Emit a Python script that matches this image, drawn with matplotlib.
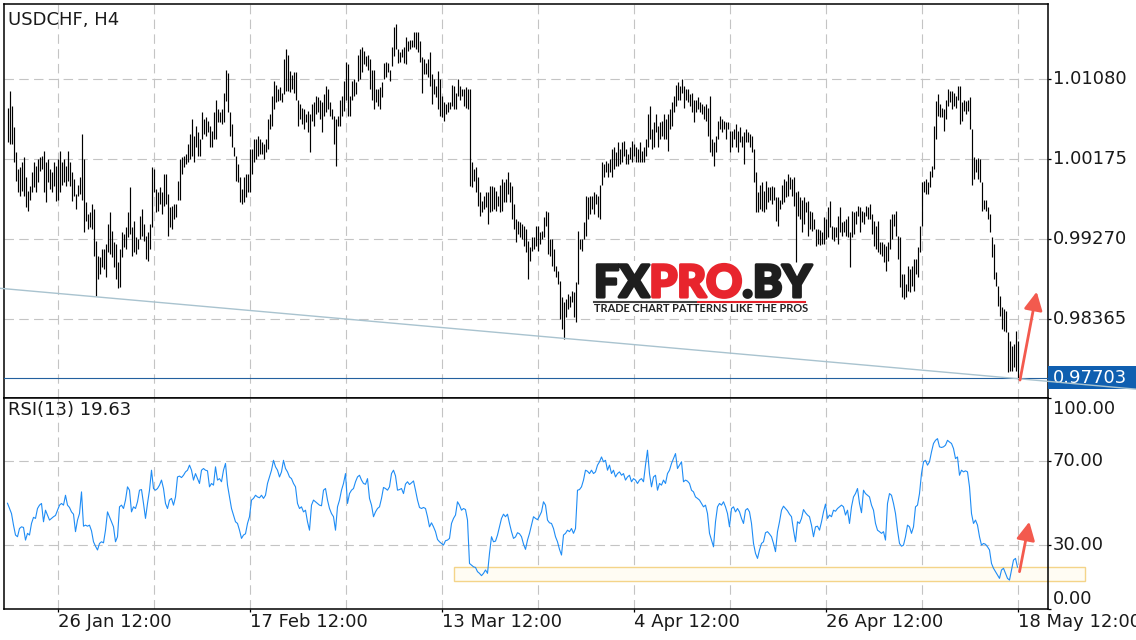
import matplotlib
matplotlib.use("Agg")
import matplotlib.pyplot as plt
import matplotlib.transforms as mtransforms
import matplotlib.patheffects as pe
from matplotlib.patches import Rectangle
from matplotlib.lines import Line2D

plt.rcParams['font.family'] = ['DejaVu Sans']

# ---------------- data ----------------
symbol_title = "USDCHF, H4"
rsi_title = "RSI(13) 19.63"
last_close = 0.97703

highs = [
    1.0076, 1.0095, 1.0078, 1.0054, 1.0026, 1.0006, 1.0009, 1.0014, 1.0020, 0.9998,
    0.9982, 0.9987, 1.0003, 1.0015, 1.0010, 1.0018, 1.0020, 1.0021, 1.0027, 1.0014,
    1.0018, 1.0006, 1.0003, 1.0014, 1.0010, 1.0018, 1.0027, 1.0015, 1.0018, 1.0010,
    1.0027, 1.0015, 1.0003, 0.9995, 0.9978, 0.9989, 0.9997, 1.0046, 1.0018, 0.9969,
    0.9956, 0.9958, 0.9967, 0.9961, 0.9925, 0.9908, 0.9907, 0.9916, 0.9916, 0.9922,
    0.9944, 0.9958, 0.9936, 0.9924, 0.9922, 0.9901, 0.9916, 0.9935, 0.9933, 0.9941,
    0.9958, 0.9986, 0.9941, 0.9948, 0.9930, 0.9927, 0.9953, 0.9961, 0.9944, 0.9931,
    0.9935, 0.9944, 1.0009, 1.0006, 0.9984, 0.9980, 0.9986, 0.9980, 1.0001, 1.0001,
    0.9978, 0.9963, 0.9965, 0.9967, 0.9967, 0.9993, 1.0018, 1.0020, 1.0021, 1.0023,
    1.0035, 1.0046, 1.0063, 1.0044, 1.0055, 1.0048, 1.0040, 1.0071, 1.0063, 1.0065,
    1.0061, 1.0055, 1.0049, 1.0071, 1.0085, 1.0074, 1.0071, 1.0074, 1.0093, 1.0119,
    1.0115, 1.0071, 1.0057, 1.0032, 1.0021, 1.0012, 0.9998, 0.9984, 0.9997, 1.0001,
    1.0001, 1.0029, 1.0029, 1.0040, 1.0040, 1.0044, 1.0040, 1.0037, 1.0035, 1.0040,
    1.0063, 1.0069, 1.0089, 1.0106, 1.0102, 1.0097, 1.0099, 1.0093, 1.0131, 1.0142,
    1.0136, 1.0117, 1.0113, 1.0116, 1.0116, 1.0085, 1.0080, 1.0076, 1.0074, 1.0069,
    1.0072, 1.0069, 1.0080, 1.0082, 1.0089, 1.0088, 1.0085, 1.0082, 1.0091, 1.0100,
    1.0097, 1.0082, 1.0074, 1.0066, 1.0063, 1.0066, 1.0085, 1.0089, 1.0106, 1.0128,
    1.0125, 1.0089, 1.0106, 1.0108, 1.0105, 1.0136, 1.0142, 1.0145, 1.0140, 1.0134,
    1.0136, 1.0131, 1.0119, 1.0119, 1.0097, 1.0097, 1.0099, 1.0105, 1.0127, 1.0128,
    1.0127, 1.0119, 1.0145, 1.0167, 1.0171, 1.0142, 1.0139, 1.0142, 1.0145, 1.0156,
    1.0151, 1.0153, 1.0153, 1.0161, 1.0161, 1.0161, 1.0151, 1.0133, 1.0131, 1.0127,
    1.0131, 1.0139, 1.0114, 1.0108, 1.0100, 1.0117, 1.0108, 1.0089, 1.0082, 1.0080,
    1.0082, 1.0082, 1.0102, 1.0100, 1.0093, 1.0108, 1.0100, 1.0097, 1.0097, 1.0099,
    1.0097, 1.0097, 1.0014, 1.0006, 1.0009, 0.9997, 0.9980, 0.9970, 0.9976, 0.9980,
    0.9980, 0.9987, 0.9987, 0.9986, 0.9982, 0.9976, 0.9989, 0.9995, 0.9992, 0.9995,
    1.0003, 0.9992, 0.9987, 0.9967, 0.9950, 0.9948, 0.9947, 0.9944, 0.9942, 0.9939,
    0.9925, 0.9918, 0.9930, 0.9930, 0.9942, 0.9942, 0.9935, 0.9936, 0.9952, 0.9959,
    0.9958, 0.9927, 0.9927, 0.9916, 0.9897, 0.9891, 0.9880, 0.9862, 0.9856, 0.9859,
    0.9865, 0.9863, 0.9869, 0.9867, 0.9879, 0.9936, 0.9927, 0.9927, 0.9947, 0.9976,
    0.9975, 0.9976, 0.9976, 0.9980, 0.9978, 0.9976, 0.9989, 1.0014, 1.0012, 1.0016,
    1.0013, 1.0018, 1.0029, 1.0031, 1.0026, 1.0037, 1.0029, 1.0037, 1.0038, 1.0029,
    1.0023, 1.0032, 1.0038, 1.0035, 1.0031, 1.0029, 1.0037, 1.0027, 1.0031, 1.0040,
    1.0069, 1.0078, 1.0052, 1.0060, 1.0069, 1.0055, 1.0060, 1.0061, 1.0069, 1.0063,
    1.0069, 1.0074, 1.0082, 1.0089, 1.0102, 1.0105, 1.0100, 1.0108, 1.0100, 1.0097,
    1.0097, 1.0091, 1.0093, 1.0085, 1.0085, 1.0088, 1.0082, 1.0080, 1.0078, 1.0080,
    1.0076, 1.0089, 1.0040, 1.0037, 1.0044, 1.0061, 1.0066, 1.0063, 1.0061, 1.0060,
    1.0060, 1.0049, 1.0049, 1.0052, 1.0057, 1.0049, 1.0054, 1.0044, 1.0048, 1.0052,
    1.0048, 1.0046, 1.0044, 1.0029, 1.0003, 0.9980, 0.9989, 0.9992, 0.9982, 0.9993,
    0.9986, 0.9986, 0.9987, 0.9986, 0.9975, 0.9975, 0.9972, 0.9989, 0.9995, 0.9993,
    1.0001, 0.9998, 0.9995, 0.9997, 0.9980, 0.9982, 0.9975, 0.9972, 0.9975, 0.9969,
    0.9970, 0.9959, 0.9958, 0.9950, 0.9939, 0.9939, 0.9937, 0.9935, 0.9952, 0.9950,
    0.9963, 0.9970, 0.9942, 0.9941, 0.9941, 0.9953, 0.9963, 0.9947, 0.9948, 0.9950,
    0.9953, 0.9935, 0.9959, 0.9958, 0.9959, 0.9965, 0.9963, 0.9959, 0.9958, 0.9965,
    0.9963, 0.9967, 0.9956, 0.9948, 0.9942, 0.9948, 0.9924, 0.9924, 0.9922, 0.9919,
    0.9924, 0.9950, 0.9956, 0.9956, 0.9959, 0.9931, 0.9930, 0.9888, 0.9888, 0.9876,
    0.9897, 0.9893, 0.9897, 0.9905, 0.9905, 0.9918, 0.9942, 0.9992, 0.9993, 0.9995,
    0.9992, 1.0004, 1.0010, 1.0055, 1.0083, 1.0091, 1.0080, 1.0076, 1.0074, 1.0085,
    1.0097, 1.0095, 1.0095, 1.0093, 1.0089, 1.0100, 1.0100, 1.0082, 1.0085, 1.0083,
    1.0085, 1.0088, 1.0052, 1.0020, 1.0018, 1.0019, 1.0018, 0.9992, 0.9972, 0.9972,
    0.9963, 0.9956, 0.9930, 0.9922, 0.9890, 0.9874, 0.9863, 0.9850, 0.9848, 0.9846,
    0.9822, 0.9812, 0.9806, 0.9809, 0.9823, 0.9812,
]

lows = [
    1.0037, 1.0035, 1.0035, 1.0014, 0.9993, 0.9980, 0.9976, 0.9982, 0.9976, 0.9963,
    0.9959, 0.9972, 0.9980, 0.9986, 0.9980, 0.9992, 1.0004, 1.0006, 0.9980, 0.9969,
    0.9992, 0.9984, 0.9980, 0.9987, 0.9970, 0.9972, 0.9980, 0.9989, 0.9992, 0.9987,
    0.9993, 0.9987, 0.9970, 0.9976, 0.9961, 0.9976, 0.9978, 0.9972, 0.9935, 0.9948,
    0.9939, 0.9941, 0.9939, 0.9908, 0.9863, 0.9882, 0.9888, 0.9896, 0.9893, 0.9884,
    0.9913, 0.9910, 0.9907, 0.9896, 0.9882, 0.9872, 0.9873, 0.9907, 0.9918, 0.9916,
    0.9930, 0.9933, 0.9908, 0.9913, 0.9910, 0.9916, 0.9927, 0.9931, 0.9925, 0.9905,
    0.9903, 0.9916, 0.9941, 0.9980, 0.9958, 0.9959, 0.9967, 0.9956, 0.9965, 0.9967,
    0.9931, 0.9941, 0.9939, 0.9950, 0.9952, 0.9972, 0.9972, 1.0001, 1.0009, 1.0012,
    1.0015, 1.0018, 1.0021, 1.0014, 1.0032, 1.0021, 1.0021, 1.0040, 1.0046, 1.0044,
    1.0048, 1.0032, 1.0032, 1.0040, 1.0040, 1.0060, 1.0060, 1.0057, 1.0060, 1.0083,
    1.0071, 1.0044, 1.0032, 1.0021, 0.9993, 0.9992, 0.9969, 0.9967, 0.9969, 0.9975,
    0.9980, 0.9980, 1.0001, 1.0015, 1.0018, 1.0021, 1.0023, 1.0023, 1.0018, 1.0026,
    1.0029, 1.0052, 1.0055, 1.0074, 1.0082, 1.0083, 1.0085, 1.0082, 1.0091, 1.0095,
    1.0095, 1.0094, 1.0097, 1.0092, 1.0085, 1.0055, 1.0063, 1.0057, 1.0052, 1.0060,
    1.0048, 1.0026, 1.0061, 1.0055, 1.0069, 1.0071, 1.0063, 1.0048, 1.0066, 1.0071,
    1.0074, 1.0066, 1.0063, 1.0035, 1.0010, 1.0055, 1.0055, 1.0066, 1.0072, 1.0085,
    1.0066, 1.0066, 1.0085, 1.0089, 1.0091, 1.0106, 1.0108, 1.0116, 1.0125, 1.0123,
    1.0119, 1.0097, 1.0085, 1.0074, 1.0082, 1.0078, 1.0074, 1.0088, 1.0108, 1.0111,
    1.0116, 1.0106, 1.0123, 1.0134, 1.0142, 1.0127, 1.0128, 1.0133, 1.0127, 1.0125,
    1.0140, 1.0142, 1.0144, 1.0145, 1.0142, 1.0139, 1.0128, 1.0093, 1.0114, 1.0114,
    1.0111, 1.0100, 1.0080, 1.0091, 1.0088, 1.0074, 1.0066, 1.0065, 1.0061, 1.0069,
    1.0071, 1.0074, 1.0078, 1.0074, 1.0074, 1.0089, 1.0085, 1.0089, 1.0078, 1.0076,
    1.0074, 0.9987, 0.9986, 0.9993, 0.9980, 0.9965, 0.9953, 0.9958, 0.9961, 0.9963,
    0.9944, 0.9958, 0.9959, 0.9961, 0.9959, 0.9965, 0.9958, 0.9959, 0.9969, 0.9969,
    0.9978, 0.9969, 0.9950, 0.9939, 0.9924, 0.9933, 0.9930, 0.9927, 0.9919, 0.9913,
    0.9882, 0.9902, 0.9914, 0.9916, 0.9919, 0.9914, 0.9922, 0.9927, 0.9930, 0.9942,
    0.9910, 0.9908, 0.9897, 0.9891, 0.9884, 0.9876, 0.9837, 0.9826, 0.9814, 0.9839,
    0.9848, 0.9850, 0.9856, 0.9839, 0.9834, 0.9876, 0.9916, 0.9914, 0.9927, 0.9931,
    0.9950, 0.9956, 0.9961, 0.9956, 0.9967, 0.9952, 0.9950, 0.9989, 0.9998, 1.0003,
    0.9997, 1.0003, 0.9997, 1.0006, 1.0010, 1.0010, 1.0012, 1.0014, 1.0021, 1.0012,
    1.0012, 1.0018, 1.0014, 1.0021, 1.0014, 1.0015, 1.0014, 1.0014, 1.0014, 1.0021,
    1.0032, 1.0040, 1.0029, 1.0032, 1.0048, 1.0031, 1.0040, 1.0044, 1.0040, 1.0040,
    1.0027, 1.0052, 1.0055, 1.0071, 1.0078, 1.0085, 1.0085, 1.0093, 1.0076, 1.0085,
    1.0082, 1.0078, 1.0071, 1.0060, 1.0071, 1.0074, 1.0071, 1.0069, 1.0063, 1.0061,
    1.0044, 1.0026, 1.0021, 1.0010, 1.0026, 1.0040, 1.0052, 1.0048, 1.0052, 1.0040,
    1.0052, 1.0026, 1.0032, 1.0040, 1.0032, 1.0026, 1.0037, 1.0032, 1.0012, 1.0037,
    1.0037, 1.0032, 1.0026, 0.9992, 0.9958, 0.9958, 0.9961, 0.9959, 0.9958, 0.9961,
    0.9969, 0.9972, 0.9967, 0.9972, 0.9948, 0.9942, 0.9961, 0.9967, 0.9969, 0.9975,
    0.9976, 0.9984, 0.9976, 0.9965, 0.9901, 0.9953, 0.9950, 0.9935, 0.9944, 0.9958,
    0.9931, 0.9939, 0.9936, 0.9939, 0.9919, 0.9922, 0.9921, 0.9922, 0.9922, 0.9927,
    0.9930, 0.9941, 0.9927, 0.9925, 0.9930, 0.9922, 0.9935, 0.9931, 0.9935, 0.9931,
    0.9930, 0.9896, 0.9930, 0.9933, 0.9944, 0.9953, 0.9935, 0.9947, 0.9944, 0.9953,
    0.9950, 0.9950, 0.9933, 0.9919, 0.9916, 0.9913, 0.9910, 0.9908, 0.9901, 0.9891,
    0.9902, 0.9916, 0.9927, 0.9942, 0.9931, 0.9905, 0.9873, 0.9862, 0.9859, 0.9862,
    0.9869, 0.9867, 0.9874, 0.9869, 0.9888, 0.9884, 0.9913, 0.9942, 0.9980, 0.9978,
    0.9978, 0.9986, 0.9997, 1.0006, 1.0040, 1.0066, 1.0065, 1.0065, 1.0049, 1.0063,
    1.0078, 1.0082, 1.0074, 1.0078, 1.0076, 1.0085, 1.0057, 1.0061, 1.0072, 1.0069,
    1.0072, 1.0052, 0.9989, 0.9995, 1.0003, 0.9995, 0.9992, 0.9959, 0.9961, 0.9959,
    0.9950, 0.9935, 0.9907, 0.9882, 0.9874, 0.9852, 0.9840, 0.9826, 0.9823, 0.9822,
    0.9777, 0.9778, 0.9778, 0.9783, 0.9778, 0.9769,
]

rsi = [
    50.0, 47.5, 45.1, 39.6, 34.9, 34.1, 38.0, 38.8, 38.5, 32.5,
    35.7, 34.9, 40.4, 43.3, 42.8, 47.5, 49.1, 49.9, 41.2, 46.7,
    44.4, 42.0, 42.8, 43.6, 44.2, 46.7, 49.1, 49.9, 49.1, 53.8,
    49.1, 48.0, 45.9, 44.8, 36.5, 42.0, 45.1, 55.4, 39.1, 39.6,
    39.1, 39.6, 36.9, 31.7, 29.6, 27.8, 30.9, 31.7, 31.2, 37.2,
    45.9, 43.6, 41.2, 38.8, 31.7, 34.1, 48.3, 49.1, 47.5, 51.5,
    57.8, 56.2, 45.9, 48.3, 47.5, 50.7, 56.2, 56.5, 49.9, 42.8,
    49.9, 56.2, 65.7, 57.0, 56.2, 57.0, 58.6, 61.0, 57.0, 49.9,
    47.5, 51.5, 52.3, 49.1, 53.0, 62.5, 62.9, 62.2, 63.3, 64.9,
    65.7, 68.1, 65.7, 61.0, 64.1, 61.7, 59.4, 65.7, 66.5, 65.7,
    65.4, 57.8, 59.4, 58.6, 67.3, 61.0, 61.7, 60.2, 65.7, 68.9,
    58.6, 53.0, 47.5, 44.4, 41.2, 40.4, 37.2, 33.3, 34.9, 35.5,
    40.4, 43.6, 51.5, 52.3, 53.8, 53.0, 52.6, 53.8, 52.3, 53.8,
    59.4, 62.5, 65.7, 70.4, 67.3, 65.7, 62.5, 64.9, 70.4, 66.5,
    64.9, 62.5, 61.7, 59.4, 57.8, 49.9, 47.5, 48.3, 45.9, 46.7,
    41.2, 37.2, 49.1, 51.5, 50.7, 49.9, 49.1, 48.8, 56.2, 57.0,
    51.5, 47.5, 45.1, 43.6, 37.2, 48.3, 51.5, 56.2, 59.4, 64.1,
    49.9, 54.6, 56.2, 57.0, 60.2, 62.5, 63.3, 61.0, 59.4, 59.0,
    61.7, 52.3, 49.1, 43.6, 45.9, 47.5, 48.3, 52.3, 57.5, 57.0,
    56.2, 57.8, 64.1, 65.7, 63.0, 56.2, 56.5, 57.0, 54.6, 59.1,
    60.2, 58.9, 59.7, 60.6, 56.2, 51.5, 48.0, 47.5, 48.0, 47.5,
    43.6, 38.8, 40.7, 38.8, 36.5, 32.8, 31.7, 30.9, 30.1, 32.2,
    32.5, 33.3, 40.4, 42.8, 44.4, 50.7, 49.1, 46.7, 47.5, 47.0,
    42.0, 21.4, 20.6, 19.8, 19.5, 17.5, 16.7, 15.6, 16.7, 18.3,
    16.7, 26.2, 34.1, 31.7, 32.0, 34.9, 38.8, 42.8, 44.8, 43.6,
    44.8, 40.4, 36.5, 33.3, 34.0, 36.0, 35.5, 34.1, 30.6, 28.1,
    32.5, 35.7, 39.6, 43.6, 42.8, 42.2, 43.9, 45.9, 50.7, 49.1,
    42.0, 40.7, 40.4, 38.0, 34.1, 31.7, 28.1, 25.4, 34.9, 35.7,
    37.2, 36.5, 38.0, 35.7, 38.0, 56.2, 56.5, 57.8, 61.0, 65.7,
    65.2, 64.1, 65.7, 64.1, 64.9, 68.1, 69.7, 72.0, 69.7, 70.4,
    65.7, 68.1, 64.1, 65.7, 62.5, 64.1, 64.9, 63.3, 64.1, 61.0,
    62.5, 63.3, 60.2, 61.7, 61.0, 59.4, 61.0, 61.7, 60.2, 68.1,
    75.2, 64.1, 57.8, 62.5, 63.3, 56.2, 59.4, 58.6, 61.0, 59.4,
    64.1, 65.7, 68.9, 71.2, 73.6, 66.5, 68.1, 69.7, 60.2, 61.0,
    60.5, 59.4, 56.2, 55.4, 53.0, 52.3, 51.5, 49.9, 48.3, 49.1,
    45.1, 35.7, 32.5, 29.3, 41.2, 48.3, 49.9, 49.1, 50.7, 48.3,
    45.1, 38.8, 47.5, 48.3, 45.9, 47.5, 45.9, 42.8, 40.4, 46.7,
    47.5, 45.9, 40.4, 30.9, 26.2, 23.8, 27.8, 30.9, 31.7, 36.0,
    36.5, 35.4, 34.1, 30.9, 27.0, 36.5, 41.2, 46.7, 48.6, 47.5,
    46.4, 44.8, 43.6, 37.2, 31.7, 41.2, 40.4, 42.8, 47.0, 45.5,
    44.4, 43.6, 39.6, 34.1, 38.8, 39.1, 37.2, 41.2, 45.9, 49.6,
    42.8, 44.4, 43.6, 46.7, 46.2, 47.5, 48.3, 49.1, 48.3, 44.4,
    46.7, 40.4, 48.3, 53.0, 54.6, 57.0, 49.9, 45.5, 56.2, 54.6,
    53.8, 53.0, 49.1, 46.7, 40.4, 37.2, 36.5, 35.7, 36.5, 32.5,
    49.9, 54.6, 53.8, 49.9, 45.1, 37.2, 30.9, 29.6, 30.1, 34.1,
    39.6, 38.8, 35.7, 38.8, 48.3, 49.1, 54.6, 64.1, 69.7, 70.4,
    68.1, 69.7, 74.4, 78.4, 79.9, 80.7, 76.8, 76.5, 76.8, 77.6,
    79.9, 79.1, 78.4, 76.0, 71.2, 72.0, 63.3, 65.7, 64.9, 65.4,
    64.9, 57.8, 45.1, 40.4, 42.0, 39.6, 34.1, 30.1, 30.9, 30.5,
    29.3, 27.8, 21.4, 19.1, 17.5, 15.9, 14.3, 18.3, 19.1, 16.7,
    14.3, 13.5, 18.3, 23.0, 23.8, 19.63,
]

price_ticks = [1.01080, 1.00175, 0.99270, 0.98365]
price_tick_labels = ["1.01080", "1.00175", "0.99270", "0.98365"]
rsi_ticks = [100, 70, 30, 0]
rsi_tick_labels = ["100.00", "70.00", "30.00", "0.00"]
rsi_grid_levels = [70, 30]
time_tick_bars = [25, 121, 217, 313, 409, 505]
time_tick_labels = ["26 Jan 12:00", "17 Feb 12:00", "13 Mar 12:00",
                    "4 Apr 12:00", "26 Apr 12:00", "18 May 12:00"]
grid_bars = [25, 73, 121, 169, 217, 265, 313, 361, 409, 457, 505]

# drawn objects (anchors in bar / price / rsi units)
trend_bars = [44, 278]
trend_prices = [0.9862, 0.9815]
rsi_zone_bars = [223, 538.5]
rsi_zone_levels = [13.0, 19.7]
price_arrow = [(506.25, 0.97678), (514.6, 0.98677)]
rsi_arrow = [(506.0, 17.5), (510.9, 41.2)]

# ---------------- layout ----------------
W, H = 1136, 640
fig = plt.figure(figsize=(W / 100, H / 100), dpi=100)
fig.patch.set_facecolor('white')

ax = fig.add_axes([4 / W, (H - 398) / H, 1044 / W, 394 / H])
ax2 = fig.add_axes([4 / W, (H - 608.5) / H, 1044 / W, 210.5 / H])

XL = (-1.75, 520.25)
for a in (ax, ax2):
    a.set_xlim(*XL)
    for s in a.spines.values():
        s.set_color('black')
        s.set_linewidth(1.1)
    a.set_facecolor('white')

ax.set_ylim(0.97475, 1.01932)
ax2.set_ylim(0, 100)

grid_kw = dict(color='#c4c4c4', lw=0.8, ls=(0, (8.5, 4.8)), zorder=0.5)
for gb in grid_bars:
    ax.axvline(gb, **grid_kw)
    ax2.axvline(gb, **grid_kw)
for p in price_ticks:
    ax.axhline(p, **grid_kw)
for r in rsi_grid_levels:
    ax2.axhline(r, **grid_kw)

# ticks
ax.set_xticks([])
ax.set_yticks(price_ticks)
ax.tick_params(axis='y', left=False, right=True, labelleft=False, labelright=False,
               direction='out', length=2.5, width=0.9, color='black')
ax2.set_yticks(rsi_ticks)
ax2.tick_params(axis='y', left=False, right=True, labelleft=False, labelright=False,
                direction='out', length=2.5, width=0.9, color='black')
ax2.set_xticks(time_tick_bars)
ax2.set_xticklabels(time_tick_labels, ha='left', fontsize=13, color='#1a1a1a')
ax2.tick_params(axis='x', direction='out', length=2.5, width=0.9, pad=1.0)

lab_kw = dict(textcoords='offset pixels', fontsize=13, color='#1a1a1a',
              ha='left', va='center', annotation_clip=False)
for p, t in zip(price_ticks, price_tick_labels):
    ax.annotate(t, xy=(1, p), xycoords=('axes fraction', 'data'), xytext=(5, 0), **lab_kw)
for r, t in zip(rsi_ticks, rsi_tick_labels):
    dy = -11 if r == 100 else (10 if r == 0 else 0)
    ax2.annotate(t, xy=(1, r), xycoords=('axes fraction', 'data'), xytext=(5, dy), **lab_kw)

# logo (white backing + text)
ax.add_patch(Rectangle((0.5613, 0.2081), 0.2203, 0.1396, transform=ax.transAxes,
                       facecolor='white', edgecolor='none', zorder=1))
logo_kw = dict(fontsize=32, fontweight='black', family=['Lato', 'DejaVu Sans'], zorder=2)
t1 = ax.text(0.5651, 0.2563, "FX", transform=ax.transAxes, color='#1e1e1e',
             va='baseline', ha='left',
             path_effects=[pe.withStroke(linewidth=2.2, foreground='#1e1e1e')], **logo_kw)
t2 = ax.annotate("PRO", xy=(1, 0), xycoords=t1, va='bottom', ha='left', color='#e8252d',
                 path_effects=[pe.withStroke(linewidth=2.2, foreground='#e8252d')], **logo_kw)
t3 = ax.annotate(".BY", xy=(1, 0), xycoords=t2, va='bottom', ha='left', color='#1e1e1e',
                 path_effects=[pe.withStroke(linewidth=2.2, foreground='#1e1e1e')], **logo_kw)
ax.text(0.5651, 0.2259, "TRADE CHART PATTERNS LIKE THE PROS", transform=ax.transAxes,
        fontsize=7.9, fontweight='bold', family=['Lato', 'DejaVu Sans'],
        color='#222222', va='center', ha='left', zorder=2)
ax.add_line(Line2D([0.5651, 0.6648], [0.2437, 0.2437], transform=ax.transAxes,
                   color='#444444', lw=1.5, zorder=2))
ax.add_line(Line2D([0.6648, 0.7672], [0.2437, 0.2437], transform=ax.transAxes,
                   color='#e5232b', lw=1.5, zorder=2))

# OHLC bars (high-low)
xs = list(range(len(highs)))
ax.vlines(xs, lows, highs, colors='black', linewidth=0.85, zorder=3)

# last price line and label
ax.axhline(last_close, color='#23609f', lw=0.8, zorder=3)
btrans = mtransforms.blended_transform_factory(ax.transAxes, ax.transData)
half = 11.5 * (1.01932 - 0.97475) / 394
ax.add_patch(Rectangle((1.0, last_close - half), 88 / 1044, 2 * half, transform=btrans,
                       facecolor='#0f5fb0', edgecolor='none', clip_on=False, zorder=4))
ax.annotate(f"{last_close:.5f}", xy=(1, last_close), xycoords=('axes fraction', 'data'),
            xytext=(5, 0), textcoords='offset pixels', fontsize=13, color='white',
            ha='left', va='center', annotation_clip=False, zorder=5)

# trend line, extended across the whole figure width
slope = (trend_prices[1] - trend_prices[0]) / (trend_bars[1] - trend_bars[0])
x_left, x_right = XL[0] - 2.0, XL[0] + (W - 4) / 2
ax.plot([x_left, x_right],
        [trend_prices[0] + slope * (x_left - trend_bars[0]),
         trend_prices[0] + slope * (x_right - trend_bars[0])],
        color='#a9c3cf', lw=1.0, clip_on=False, zorder=6)

# arrows
arrow_kw = dict(arrowstyle='-|>,head_length=0.55,head_width=0.28', color='#f35a4e',
                lw=2.0, mutation_scale=20, shrinkA=0, shrinkB=0)
ax.annotate('', xy=price_arrow[1], xytext=price_arrow[0], arrowprops=arrow_kw,
            annotation_clip=False, zorder=7)

# RSI panel
ax2.add_patch(Rectangle((rsi_zone_bars[0], rsi_zone_levels[0]),
                        rsi_zone_bars[1] - rsi_zone_bars[0],
                        rsi_zone_levels[1] - rsi_zone_levels[0],
                        facecolor='#fffcf3', edgecolor='#f4d489', lw=1.0,
                        clip_on=False, zorder=1.5))
ax2.plot(xs, rsi, color='#1e8cf5', lw=0.8, zorder=3)
ax2.annotate('', xy=rsi_arrow[1], xytext=rsi_arrow[0], arrowprops=arrow_kw,
             annotation_clip=False, zorder=7)

# titles
ax.annotate(symbol_title, xy=(0, 1), xycoords='axes fraction', xytext=(4, -16),
            textcoords='offset pixels', fontsize=13, color='#1a1a1a', va='center', ha='left')
ax2.annotate(rsi_title, xy=(0, 1), xycoords='axes fraction', xytext=(4, -12),
             textcoords='offset pixels', fontsize=13, color='#1a1a1a', va='center', ha='left')

fig.savefig('out.png', dpi=100, facecolor='white')
